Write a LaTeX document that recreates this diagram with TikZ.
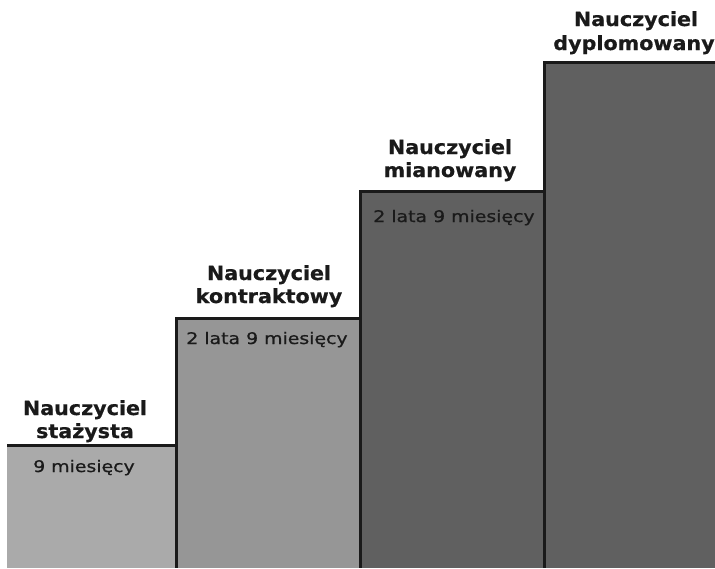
\documentclass[tikz,border=0pt]{standalone}
\usepackage{fontspec}
\setmainfont{DejaVu Sans}
\newfontfamily\titlefont{DejaVu Sans Bold}[FakeStretch=1.06,FakeBold=0.6]
\newfontfamily\innerfont{DejaVu Sans}[FakeStretch=1.18,FakeBold=0.8]
\definecolor{stepA}{HTML}{AAAAAA}
\definecolor{stepB}{HTML}{969696}
\definecolor{stepC}{HTML}{606060}
\definecolor{ink}{HTML}{1A1A1A}
\begin{document}
\begin{tikzpicture}[x=1pt,y=-1pt,
  title/.style={font=\titlefont\fontsize{19.5}{23}\selectfont, text=ink, align=center, inner sep=0pt, anchor=base},
  inner/.style={font=\innerfont\fontsize{16}{19}\selectfont, text=ink, inner sep=0pt, anchor=base},
  edge/.style={draw=ink, line width=3pt}]
\useasboundingbox (0,0) rectangle (715,568);
\fill[white] (0,0) rectangle (715,568);
% steps
\fill[stepA] (7,445) rectangle (176,568);
\fill[stepB] (176,318) rectangle (360,568);
\fill[stepC] (360,191) rectangle (544,568);
\fill[stepC] (544,62) rectangle (715,568);
% named corners
\coordinate (s1l) at (7,445);
\coordinate (s1r) at (176,445);
\coordinate (s2l) at (176,318);
\coordinate (s2r) at (360,318);
\coordinate (s3l) at (360,191);
\coordinate (s3r) at (544,191);
\coordinate (s4l) at (544,62);
\coordinate (s4r) at (715,62);
\coordinate (b1) at (176,568);
\coordinate (b2) at (360,568);
\coordinate (b3) at (544,568);
\draw[edge, line join=miter] (s1l) -- (s1r) -- (s2l) -- (s2r) -- (s3l) -- (s3r) -- (s4l) -- (s4r);
\draw[edge] (s1r) -- (b1);
\draw[edge] (s2r) -- (b2);
\draw[edge] (s3r) -- (b3);
% titles
\node[title] (t1a) at (85,415) {Nauczyciel};
\node[title] (t1b) at (85,438) {stażysta};
\node[title] (t2a) at (269,280) {Nauczyciel};
\node[title] (t2b) at (269,303) {kontraktowy};
\node[title] (t3a) at (450,154) {Nauczyciel};
\node[title] (t3b) at (450,177) {mianowany};
\node[title] (t4a) at (636,26) {Nauczyciel};
\node[title] (t4b) at (634,50) {dyplomowany};
% durations
\node[inner] (d1) at (84,472) {9 miesięcy};
\node[inner] (d2) at (267,344) {2 lata 9 miesięcy};
\node[inner] (d3) at (454,222) {2 lata 9 miesięcy};
\end{tikzpicture}
\end{document}
